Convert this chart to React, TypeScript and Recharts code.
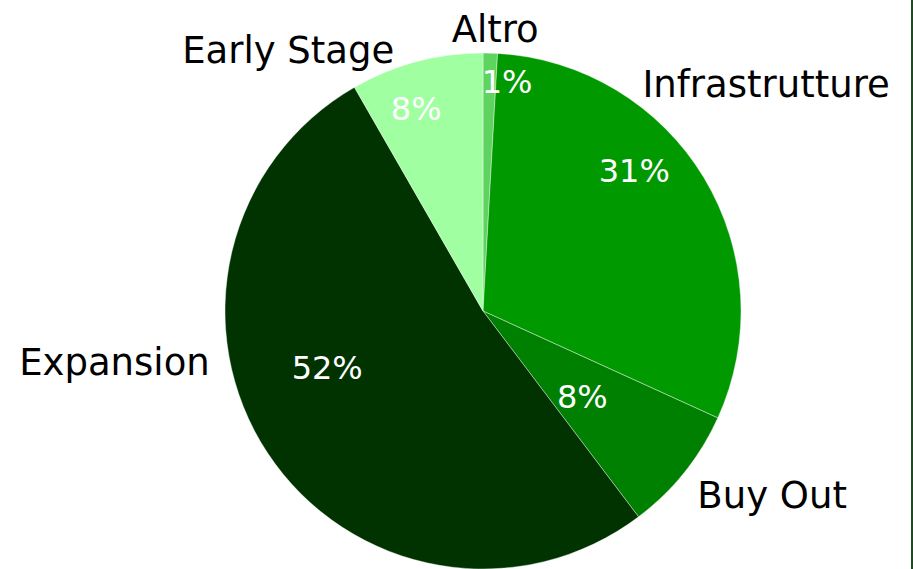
import React from "react";
import { PieChart, Pie, Cell } from "recharts";

const categories = ["Altro", "Infrastrutture", "Buy Out", "Expansion", "Early Stage"];
const values = [0.9, 30.9, 7.9, 52.0, 8.3];
const colors = ["#5fd35f", "#009900", "#008000", "#003300", "#a0ffa0"];

// label placement: [clockwise angle from top (deg), radius] for text baseline centre
const pctLayout: [number, number][] = [
  [6.3, 219],
  [49.5, 199],
  [134.4, 139],
  [246.4, 170],
  [340.7, 202],
];
const nameLayout: [number, number][] = [
  [2.6, 269],
  [52.9, 355],
  [124.3, 350],
  [260.2, 374],
  [321.8, 315],
];

const data = categories.map((name, i) => ({ name, value: values[i] }));

const FONT = "'DejaVu Sans', Verdana, sans-serif";

const polar = (cx: number, cy: number, a: number, r: number) => {
  const rad = (a * Math.PI) / 180;
  return { x: cx + r * Math.sin(rad), y: cy - r * Math.cos(rad) };
};

const renderLabel = (props: any) => {
  const { cx, cy, index, percent, name } = props;
  const p = polar(cx, cy, pctLayout[index][0], pctLayout[index][1]);
  const n = polar(cx, cy, nameLayout[index][0], nameLayout[index][1]);
  return (
    <g key={`lbl-${index}`}>
      <text x={p.x} y={p.y} textAnchor="middle" fill="#ffffff" fontSize={32} fontFamily={FONT}>
        {`${Math.round(percent * 100)}%`}
      </text>
      <text x={n.x} y={n.y} textAnchor="middle" fill="#000000" fontSize={37} fontFamily={FONT}>
        {name}
      </text>
    </g>
  );
};

export default function App() {
  return (
    <div style={{ position: "fixed", left: 0, top: 0, width: 913, height: 569, background: "#fff", overflow: "hidden" }}>
      <PieChart width={913} height={569} margin={{ top: 0, right: 0, bottom: 0, left: 0 }}>
        <Pie
          data={data}
          dataKey="value"
          nameKey="name"
          cx={483}
          cy={311}
          outerRadius={258}
          startAngle={90}
          endAngle={-270}
          stroke="#ffffff"
          strokeWidth={0.4}
          label={renderLabel}
          labelLine={false}
          isAnimationActive={false}
        >
          {data.map((d, i) => (
            <Cell key={d.name} fill={colors[i]} />
          ))}
        </Pie>
      </PieChart>
      <div style={{ position: "absolute", left: 911, top: 0, width: 2, height: 569, background: "#1f4a22" }} />
    </div>
  );
}
